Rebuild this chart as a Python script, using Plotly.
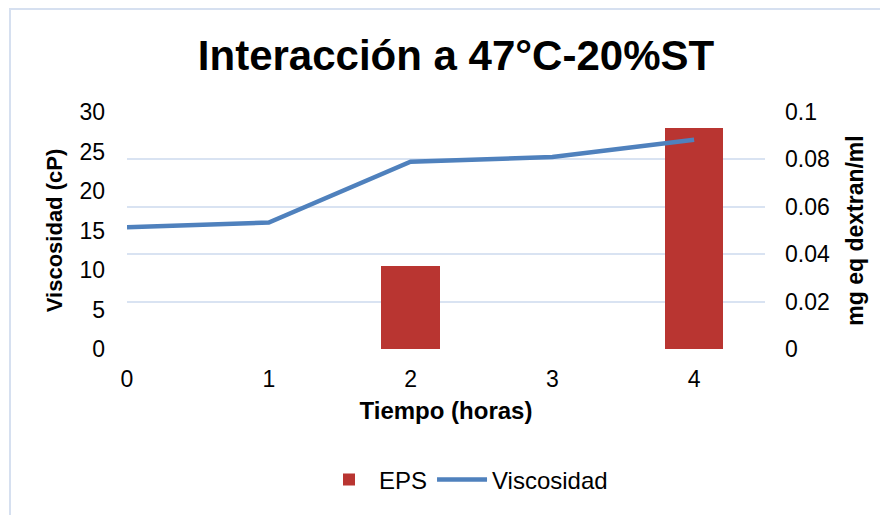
import plotly.graph_objects as go

tiempo = [0, 1, 2, 3, 4]
viscosidad = [15.4, 16.0, 23.7, 24.3, 26.5]
eps_x = [2, 4]
eps = [0.0352, 0.0934]

W, H = 888, 515
L, T = 119, 104
pw, ph = 638, 237
R, B = W - L - pw, H - T - ph

fig = go.Figure()
fig.add_trace(go.Bar(x=eps_x, y=eps, name="EPS", yaxis="y", width=0.41,
                     marker=dict(color="#B93531", line=dict(width=0))))
fig.add_trace(go.Scatter(x=tiempo, y=viscosidad, name="Viscosidad", yaxis="y2",
                         mode="lines", line=dict(color="#4F81BD", width=4.5)))

grid = "#D9E3F2"
font = "Arial, Liberation Sans, sans-serif"
fig.update_layout(
    width=W, height=H,
    margin=dict(l=L, r=R, t=T, b=B),
    paper_bgcolor="white", plot_bgcolor="white",
    font=dict(family=font, color="black", size=23),
    title=dict(text="<b>Interacción a 47°C-20%ST</b>", x=448 / W, xanchor="center",
               y=1 - 47 / H, yanchor="middle", font=dict(size=42, color="black")),
    xaxis=dict(range=[0, 4.5], tickvals=tiempo, showgrid=False, zeroline=False,
               showline=False, ticks="", ticklabelstandoff=14,
               title=dict(text="<b>Tiempo (horas)</b>", font=dict(size=24), standoff=11)),
    yaxis=dict(side="right", range=[0, 0.1], dtick=0.02, showgrid=True, gridcolor=grid,
               gridwidth=1.5, zeroline=False, showline=False, ticks="", ticklabelstandoff=19,
               title=dict(text="<b>mg eq dextran/ml</b>", font=dict(size=23), standoff=17)),
    yaxis2=dict(side="left", overlaying="y", range=[0, 30], dtick=5, showgrid=False,
                zeroline=False, showline=False, ticks="", ticklabelstandoff=21,
                title=dict(text="<b>Viscosidad (cP)</b>", font=dict(size=22), standoff=10)),
    showlegend=True,
    legend=dict(orientation="h", xref="container", yref="container", x=458 / W, xanchor="center",
                y=1 - 472 / H, yanchor="middle", font=dict(size=24), traceorder="normal",
                itemwidth=50),
    bargap=0,
)

fig.add_shape(type="rect", xref="paper", yref="paper",
              x0=(2 - L) / pw, x1=(W + 20 - L) / pw,
              y0=-(H + 20 - T - ph) / ph, y1=(T + ph - 1) / ph,
              line=dict(color="#D6E0F0", width=2), fillcolor="rgba(0,0,0,0)", layer="below")

fig.write_html("out.html")
